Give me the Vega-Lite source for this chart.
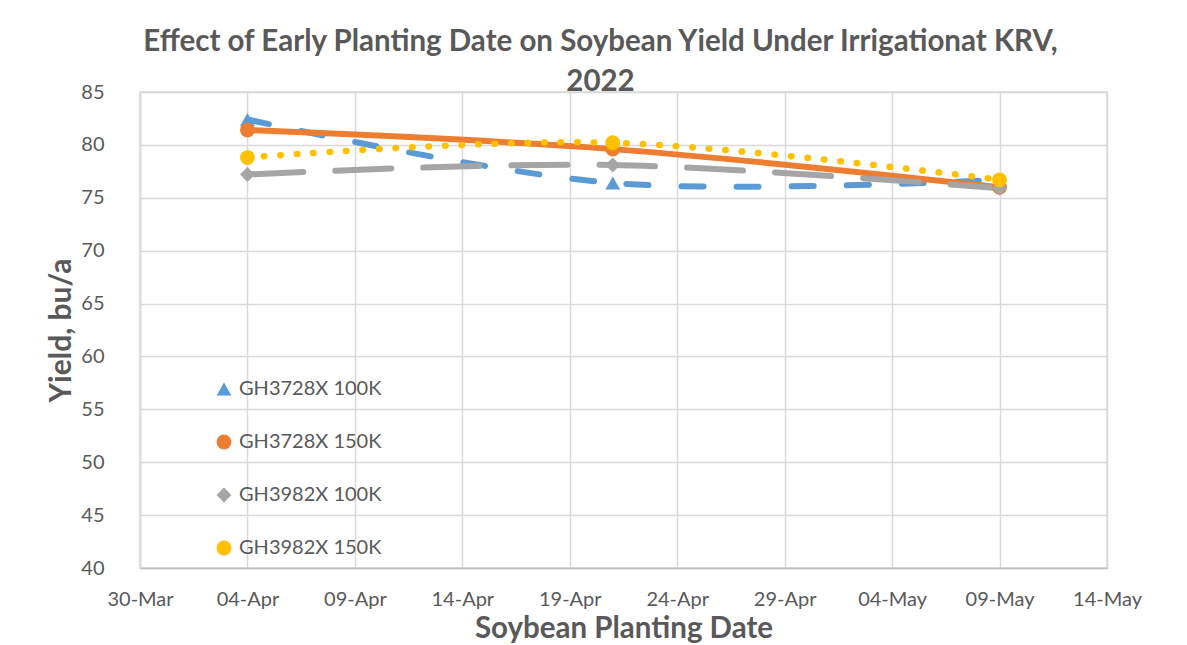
{
  "$schema": "https://vega.github.io/schema/vega-lite/v6.json",
  "width": 967,
  "height": 476,
  "autosize": {"type": "none"},
  "padding": {"left": 140, "top": 92, "right": 80, "bottom": 77},
  "background": "white",
  "config": {
    "font": "Lato",
    "view": {"stroke": "#d9d9d9", "strokeWidth": 1.5},
    "legend": {
      "orient": "none",
      "legendX": 74,
      "legendY": 287,
      "direction": "vertical",
      "title": null,
      "labelFontSize": 20,
      "labelColor": "#595959",
      "labelOffset": 5,
      "rowPadding": 33,
      "symbolSize": 220
    }
  },
  "title": {
    "text": ["Effect of Early Planting Date on Soybean Yield Under Irrigationat KRV,", "2022"],
    "fontSize": 29.5,
    "fontWeight": "bold",
    "color": "#595959",
    "lineHeight": 40,
    "anchor": "middle",
    "dx": -23,
    "offset": -15
  },
  "data": {
    "values": [
      {"series": "GH3728X 100K", "date": "2022-04-04T00:00:00", "yield": 82.4},
      {"series": "GH3728X 100K", "date": "2022-04-21T00:00:00", "yield": 76.4},
      {"series": "GH3728X 100K", "date": "2022-05-09T00:00:00", "yield": 76.7},
      {"series": "GH3728X 150K", "date": "2022-04-04T00:00:00", "yield": 81.4},
      {"series": "GH3728X 150K", "date": "2022-04-21T00:00:00", "yield": 79.6},
      {"series": "GH3728X 150K", "date": "2022-05-09T00:00:00", "yield": 76.0},
      {"series": "GH3982X 100K", "date": "2022-04-04T00:00:00", "yield": 77.2},
      {"series": "GH3982X 100K", "date": "2022-04-21T00:00:00", "yield": 78.1},
      {"series": "GH3982X 100K", "date": "2022-05-09T00:00:00", "yield": 75.9},
      {"series": "GH3982X 150K", "date": "2022-04-04T00:00:00", "yield": 78.8},
      {"series": "GH3982X 150K", "date": "2022-04-21T00:00:00", "yield": 80.2},
      {"series": "GH3982X 150K", "date": "2022-05-09T00:00:00", "yield": 76.7}
    ]
  },
  "encoding": {
    "x": {
      "field": "date",
      "type": "temporal",
      "scale": {
        "domain": [
          {"year": 2022, "month": 3, "date": 30},
          {"year": 2022, "month": 5, "date": 14}
        ]
      },
      "axis": {
        "values": [
          {"year": 2022, "month": 3, "date": 30},
          {"year": 2022, "month": 4, "date": 4},
          {"year": 2022, "month": 4, "date": 9},
          {"year": 2022, "month": 4, "date": 14},
          {"year": 2022, "month": 4, "date": 19},
          {"year": 2022, "month": 4, "date": 24},
          {"year": 2022, "month": 4, "date": 29},
          {"year": 2022, "month": 5, "date": 4},
          {"year": 2022, "month": 5, "date": 9},
          {"year": 2022, "month": 5, "date": 14}
        ],
        "format": "%d-%b",
        "title": "Soybean Planting Date",
        "labelFontSize": 20,
        "labelColor": "#595959",
        "labelPadding": 21,
        "labelFlush": false,
        "labelOverlap": false,
        "ticks": false,
        "grid": true,
        "gridColor": "#d9d9d9",
        "gridWidth": 1.5,
        "domainColor": "#bfbfbf",
        "domainWidth": 1.5,
        "titleFontSize": 29.5,
        "titleFontWeight": "bold",
        "titleColor": "#595959",
        "titlePadding": 5
      }
    },
    "y": {
      "field": "yield",
      "type": "quantitative",
      "scale": {"domain": [40, 85], "nice": false, "zero": false},
      "axis": {
        "values": [40, 45, 50, 55, 60, 65, 70, 75, 80, 85],
        "title": "Yield, bu/a",
        "labelFontSize": 20,
        "labelColor": "#595959",
        "labelPadding": 36,
        "ticks": false,
        "grid": true,
        "gridColor": "#d9d9d9",
        "gridWidth": 1.5,
        "domainColor": "#d9d9d9",
        "domainWidth": 1.5,
        "titleFontSize": 30,
        "titleFontWeight": "bold",
        "titleColor": "#595959",
        "titlePadding": 4
      }
    }
  },
  "layer": [
    {
      "transform": [{"filter": "datum.series === 'GH3728X 100K'"}],
      "mark": {"type": "line", "interpolate": "cardinal", "strokeWidth": 6, "strokeCap": "round", "color": "#5b9bd5", "strokeDash": [22, 33]}
    },
    {
      "transform": [{"filter": "datum.series === 'GH3728X 150K'"}],
      "mark": {"type": "line", "interpolate": "cardinal", "strokeWidth": 6, "strokeCap": "round", "color": "#ed7d31"}
    },
    {
      "transform": [{"filter": "datum.series === 'GH3982X 100K'"}],
      "mark": {"type": "line", "interpolate": "cardinal", "strokeWidth": 6, "strokeCap": "round", "color": "#a5a5a5", "strokeDash": [56, 32]}
    },
    {
      "transform": [{"filter": "datum.series === 'GH3982X 150K'"}],
      "mark": {"type": "line", "interpolate": "cardinal", "strokeWidth": 6.5, "strokeCap": "round", "color": "#ffc000", "strokeDash": [0.5, 16]}
    },
    {
      "mark": {"type": "point", "filled": true, "opacity": 1},
      "encoding": {
        "color": {
          "field": "series",
          "type": "nominal",
          "scale": {
            "domain": ["GH3728X 100K", "GH3728X 150K", "GH3982X 100K", "GH3982X 150K"],
            "range": ["#5b9bd5", "#ed7d31", "#a5a5a5", "#ffc000"]
          },
          "legend": {"orient": "none", "legendX": 74, "legendY": 287, "title": null}
        },
        "shape": {
          "field": "series",
          "type": "nominal",
          "scale": {
            "domain": ["GH3728X 100K", "GH3728X 150K", "GH3982X 100K", "GH3982X 150K"],
            "range": ["triangle-up", "circle", "diamond", "circle"]
          },
          "legend": {"orient": "none", "legendX": 74, "legendY": 287, "title": null}
        },
        "size": {"value": 220}
      }
    }
  ]
}
